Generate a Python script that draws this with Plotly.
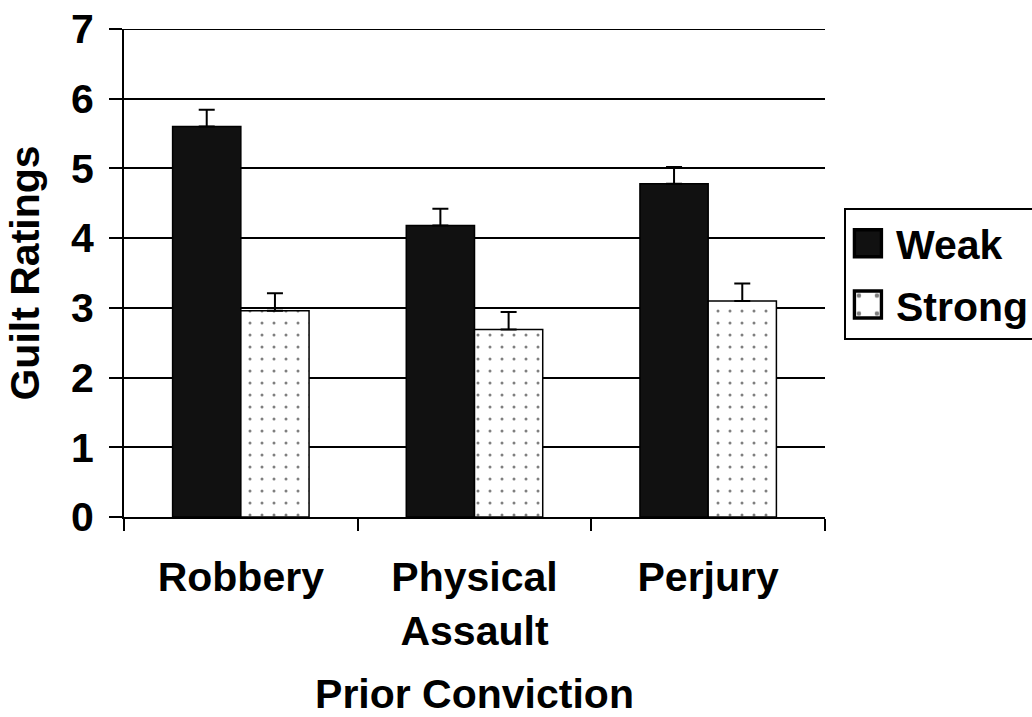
import plotly.graph_objects as go

# Mean guilt ratings by prior-conviction type and evidence strength
categories = ["Robbery", "Physical<br>Assault", "Perjury"]
weak_means = [5.60, 4.18, 4.78]
weak_se = [0.24, 0.24, 0.24]
strong_means = [2.96, 2.69, 3.10]
strong_se = [0.25, 0.25, 0.25]
y_ticks = [0, 1, 2, 3, 4, 5, 6, 7]

FONT = dict(family="Liberation Sans, Arial, sans-serif", size=41, color="black", weight="bold")

fig = go.Figure()

fig.add_trace(go.Bar(
    name="Weak",
    x=categories,
    y=weak_means,
    marker=dict(color="#111111", line=dict(color="black", width=1.5)),
    error_y=dict(type="data", array=weak_se, arrayminus=[0] * len(weak_se),
                 symmetric=False, color="black", thickness=2, width=8),
    legendgroup="weak",
))

fig.add_trace(go.Bar(
    name="Strong",
    x=categories,
    y=strong_means,
    marker=dict(
        color="white",
        line=dict(color="black", width=1.5),
        pattern=dict(shape=".", size=12, solidity=0.05, fgcolor="black",
                     bgcolor="white", fillmode="overlay"),
    ),
    error_y=dict(type="data", array=strong_se, arrayminus=[0] * len(strong_se),
                 symmetric=False, color="black", thickness=2, width=8),
    legendgroup="strong",
))

# top grid line at the range edge
fig.add_shape(type="line", xref="paper", yref="y", x0=0, x1=1, y0=7, y1=7,
              line=dict(color="black", width=2), layer="below")

fig.update_layout(
    width=1032,
    height=717,
    margin=dict(l=124, r=207, t=29, b=200, autoexpand=False),
    paper_bgcolor="white",
    plot_bgcolor="white",
    barmode="group",
    bargap=0.416,
    bargroupgap=0,
    font=FONT,
    showlegend=True,
    legend=dict(
        x=1.027, y=0.633, xanchor="left", yanchor="top",
        bordercolor="black", borderwidth=2, bgcolor="white",
        font=FONT, tracegroupgap=5, itemwidth=40,
    ),
    xaxis=dict(
        showline=True, linecolor="black", linewidth=2,
        ticks="outside", tickson="boundaries", ticklen=12, tickwidth=2, tickcolor="black",
        showgrid=False, zeroline=False,
        tickfont=FONT, ticklabelstandoff=23,
        title=dict(text="Prior Conviction", font=FONT, standoff=38),
    ),
    yaxis=dict(
        range=[0, 7], tickvals=y_ticks,
        showline=True, linecolor="black", linewidth=2,
        ticks="outside", ticklen=13, tickwidth=2, tickcolor="black",
        showgrid=True, gridcolor="black", gridwidth=2, zeroline=False,
        tickfont=FONT, ticklabelstandoff=7,
        title=dict(text="Guilt Ratings", font=FONT, standoff=19),
    ),
)

# enlarge the legend swatches
post = """
document.querySelectorAll('.legendpoints path').forEach(function(p){
  p.setAttribute('transform', 'translate(22,0) scale(2.25)');
});
"""

fig.write_html("out.html", post_script=post)
